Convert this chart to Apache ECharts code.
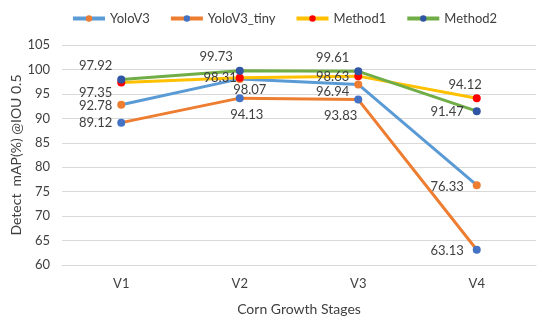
<!DOCTYPE html>
<html><head><meta charset="utf-8">
<script src="https://cdn.jsdelivr.net/npm/echarts@6/dist/echarts.min.js"></script>
<style>html,body{margin:0;padding:0;background:#fff}#c{width:550px;height:320px}</style>
</head><body><div id="c"></div>
<script>
const categories = ['V1', 'V2', 'V3', 'V4'];
const seriesNames = ['YoloV3', 'YoloV3_tiny', 'Method1', 'Method2'];
const yoloV3 = [92.78, 98.07, 96.94, 76.33];
const yoloV3Tiny = [89.12, 94.13, 93.83, 63.13];
const method1 = [97.35, 98.31, 98.63, 94.12];
const method2 = [97.92, 99.73, 99.61, 91.47];
const yTicks = [60, 65, 70, 75, 80, 85, 90, 95, 100, 105];

// label placements (style only)
const labelPos = [
  [['left',[0,1]],['bottom',[10,-5]],['left',[0,7]],['left',[-4,2]]],
  [['left',[0,0]],['bottom',[7,1]],['left',[8,16]],['left',[-4,1]]],
  [['left',[0,10]],['left',[6,0]],['left',[0,1]],['left',[14,-13]]],
  [['left',[0,-14]],['left',[2,-14]],['left',[0,-14]],['left',[-4,1]]]
];
const lineColors = ['#5B9BD5', '#ED7D31', '#FFC000', '#70AD47'];
const markColors = ['#ED7D31', '#4472C4', '#FF0000', '#2F55A4'];
const values = [yoloV3, yoloV3Tiny, method1, method2];
const FONT = 'Lato, "Open Sans", sans-serif';

const chart = echarts.init(document.getElementById('c'));
chart.setOption({
  animation: false,
  legend: {
    top: 7, left: 66, itemWidth: 32, itemHeight: 8, itemGap: 19,
    lineStyle: { width: 4 },
    textStyle: { fontFamily: FONT, fontSize: 13, color: '#404040' }
  },
  grid: { left: 62, right: 14, top: 45, bottom: 55, outerBoundsMode: 'none', containLabel: false },
  xAxis: {
    type: 'category', data: categories, boundaryGap: true,
    name: 'Corn Growth Stages', nameLocation: 'middle', nameGap: 37,
    nameTextStyle: { fontFamily: FONT, fontSize: 14, color: '#404040' },
    axisLine: { lineStyle: { color: '#d9d9d9' } },
    axisTick: { show: false },
    axisLabel: { fontFamily: FONT, fontSize: 13, color: '#404040', margin: 12 }
  },
  yAxis: {
    type: 'value', min: yTicks[0], max: yTicks[yTicks.length - 1], interval: 5,
    name: 'Detect  mAP(%) @IOU 0.5', nameLocation: 'middle', nameGap: 39,
    nameMoveOverlap: false,
    nameTextStyle: { fontFamily: FONT, fontSize: 14, color: '#404040' },
    axisLine: { show: false }, axisTick: { show: false },
    axisLabel: { fontFamily: FONT, fontSize: 13, color: '#404040', margin: 12 },
    splitLine: { lineStyle: { color: '#d9d9d9', width: 1 } }
  },
  series: seriesNames.map((n, i) => ({
    name: n, type: 'line', symbol: 'circle', symbolSize: 8,
    lineStyle: { color: lineColors[i], width: 3 },
    itemStyle: { color: markColors[i] },
    label: { show: true, fontFamily: FONT, fontSize: 13, color: '#404040' },
    data: values[i].map((v, j) => ({
      value: v,
      label: { position: labelPos[i][j][0], offset: labelPos[i][j][1] }
    }))
  }))
});
</script></body></html>
